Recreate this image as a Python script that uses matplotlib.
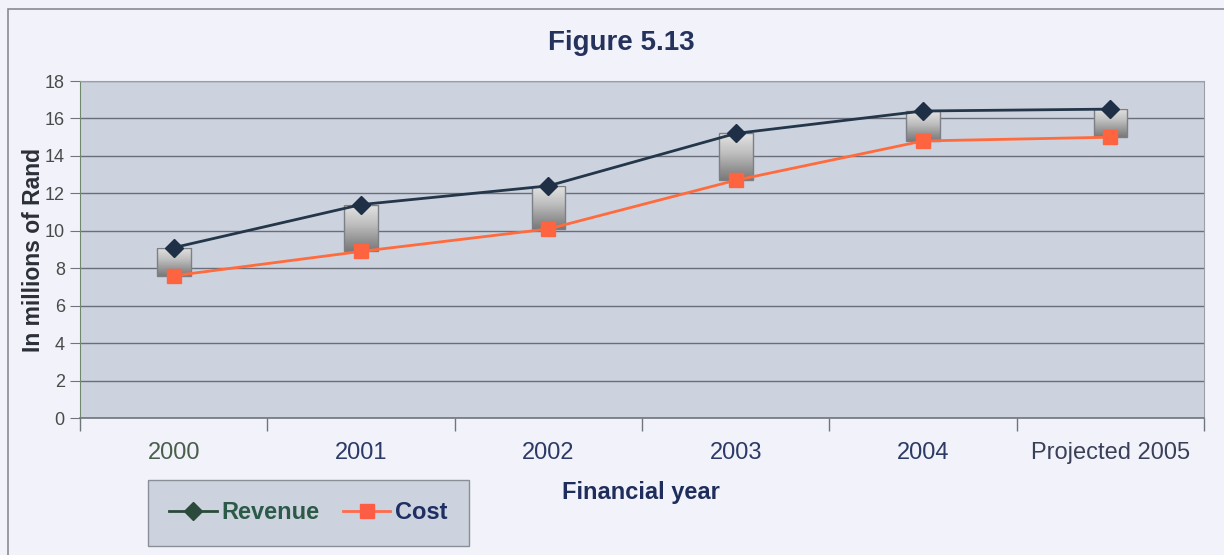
import numpy as np
import matplotlib.pyplot as plt
from matplotlib.patches import Rectangle
from matplotlib.lines import Line2D

plt.rcParams['font.family'] = ['Liberation Sans', 'DejaVu Sans']

# Revenue and cost per financial year, millions of Rand
years = ['2000', '2001', '2002', '2003', '2004', 'Projected 2005']
revenue = [9.1, 11.4, 12.4, 15.2, 16.4, 16.5]
cost = [7.6, 8.9, 10.1, 12.7, 14.8, 15.0]

x = np.arange(len(years))

fig = plt.figure(figsize=(12.24, 5.55), dpi=100, facecolor='#f2f3fa')
ax = fig.add_axes([0.0654, 0.2468, 0.9183, 0.6072])
ax.set_facecolor('#cdd3de')

# outer chart frame
fig.patches.append(Rectangle((8 / 1224, -0.02), 1.05, 1 - 9 / 555 + 0.02,
                             transform=fig.transFigure, fill=False,
                             edgecolor='#8a8a92', linewidth=1.2, zorder=0))

ax.set_ylim(0, 18)
ax.set_yticks(range(0, 19, 2))
ax.yaxis.grid(True, color='#6a6e78', linewidth=1.0)
ax.set_axisbelow(True)

# up/down bars between cost and revenue with a grey gradient
grad = np.linspace(0, 1, 64).reshape(-1, 1)
bw = 0.18
for xi, lo, hi in zip(x, cost, revenue):
    ax.imshow(grad, cmap='Greys', vmin=-0.5, vmax=2.0, aspect='auto',
              extent=[xi - bw / 2, xi + bw / 2, lo, hi], origin='upper',
              zorder=2, interpolation='bilinear')
    ax.add_patch(Rectangle((xi - bw / 2, lo), bw, hi - lo, fill=False,
                           edgecolor='#7c7f86', linewidth=1.0, zorder=2.5))
ax.set_xlim(-0.5, len(years) - 0.5)
ax.set_ylim(0, 18)

ax.plot(x, revenue, color='#24364a', linewidth=2.0, marker='D', markersize=9,
        markerfacecolor='#1f3046', markeredgecolor='#1f3046', zorder=3)
ax.plot(x, cost, color='#ff6b3d', linewidth=2.0, marker='s', markersize=10,
        markerfacecolor='#ff6440', markeredgecolor='#ff6440', zorder=3)

for s in ['top', 'right']:
    ax.spines[s].set_color('#9a9ea8')
ax.spines['left'].set_color('#6f8a6a')
ax.spines['bottom'].set_color('#70747c')
ax.spines['bottom'].set_linewidth(1.2)

ax.set_xticks(np.arange(len(years) + 1) - 0.5, minor=False)
ax.set_xticklabels([])
ax.tick_params(axis='x', length=9, color='#70747c', width=1)
ax.set_xticks(x, minor=True)
ax.set_xticklabels(years, minor=True)
ax.tick_params(axis='x', which='minor', length=0, pad=17, labelsize=17,
               labelcolor='#2b3a66')
ax.get_xticklabels(minor=True)[0].set_color('#4a5e4c')
ax.get_xticklabels(minor=True)[-1].set_color('#3a4058')

ax.tick_params(axis='y', length=7, color='#70747c', labelsize=13,
               labelcolor='#4a4a4a', pad=4)

ax.set_ylabel('In millions of Rand', fontsize=16.5, fontweight='bold',
              color='#2c2f38', labelpad=0)
fig.text(0.524, 0.1135, 'Financial year', ha='center', va='center',
         fontsize=17, fontweight='bold', color='#1f2d5c')
fig.text(0.508, 0.922, 'Figure 5.13', ha='center', va='center',
         fontsize=20, fontweight='bold', color='#25325c')

handles = [
    Line2D([], [], color='#2c4a3c', linewidth=2, marker='D', markersize=9,
           markerfacecolor='#2c4a3c', markeredgecolor='#2c4a3c'),
    Line2D([], [], color='#ff6b4d', linewidth=2, marker='s', markersize=10,
           markerfacecolor='#ff5c45', markeredgecolor='#ff5c45'),
]
leg = fig.legend(handles, ['Revenue', 'Cost'], loc='center',
                 bbox_to_anchor=(0.252, 0.0757), ncol=2, frameon=True,
                 fancybox=False, fontsize=17, handlelength=2.0,
                 columnspacing=1.0, handletextpad=0.2, borderpad=0.9,
                 borderaxespad=0)
leg.get_frame().set_facecolor('#cdd3de')
leg.get_frame().set_edgecolor('#8a8e96')
leg.get_frame().set_alpha(1)
for t, c in zip(leg.get_texts(), ['#2c5a48', '#1f2f63']):
    t.set_color(c)
    t.set_fontweight('bold')

fig.savefig('out.png', dpi=100, facecolor=fig.get_facecolor())
